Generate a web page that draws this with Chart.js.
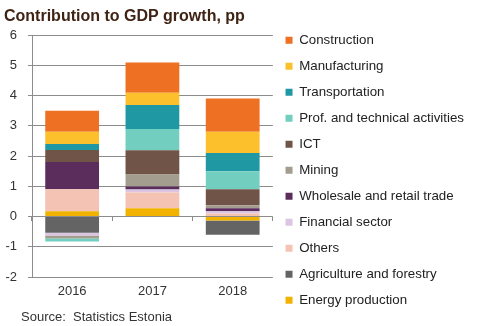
<!DOCTYPE html>
<html lang="en">
<head>
<meta charset="UTF-8">
<title>Contribution to GDP growth, pp</title>
<script src="https://cdn.jsdelivr.net/npm/chart.js@4"></script>
<style>
  html, body { margin: 0; padding: 0; background: #fff; }
</style>
</head>
<body>
<canvas id="grafico" width="479" height="326"></canvas>

<script>
    // contributions by sector, percentage points
    const years = ['2016', '2017', '2018'];
    const energy = [0.17, 0.27, -0.13];
    const agriculture = [-0.54, 0, -0.47];
    const others = [0.73, 0.52, 0.10];
    const financial = [-0.09, 0.10, 0.07];
    const wholesale = [0.90, 0.10, 0.10];
    const mining = [-0.10, 0.40, 0.10];
    const ict = [0.40, 0.80, 0.53];
    const prof = [-0.10, 0.70, 0.60];
    const transport = [0.20, 0.80, 0.60];
    const manufacturing = [0.40, 0.40, 0.70];
    const construction = [0.70, 1.00, 1.10];

    const titleText = 'Contribution to GDP growth, pp';
    const sourceText = 'Source:  Statistics Estonia';

    const font = '"Liberation Sans", Arial, sans-serif';
    const gridColor = '#8c8c8c';

    // bottom of the stack first
    const series = [
        ['Energy production', energy, '#f1b300'],
        ['Agriculture and forestry', agriculture, '#646464'],
        ['Others', others, '#f4c3b3'],
        ['Financial sector', financial, '#dcc4e2'],
        ['Wholesale and retail trade', wholesale, '#5a2d5d'],
        ['Mining', mining, '#a39d90'],
        ['ICT', ict, '#6f5447'],
        ['Prof. and technical activities', prof, '#72cfc0'],
        ['Transportation', transport, '#1f98a4'],
        ['Manufacturing', manufacturing, '#fcc02d'],
        ['Construction', construction, '#ee7023']
    ];

    const datasets = series.map(function (s) {
        return {
            label: s[0],
            data: s[1],
            backgroundColor: s[2],
            borderWidth: 0,
            barPercentage: 0.67,
            categoryPercentage: 1,
            xAxisID: 'x'
        };
    });

    // heading and source line
    const notes = {
        id: 'notes',
        afterDraw(chart) {
            const ctx = chart.ctx;
            ctx.save();
            ctx.textAlign = 'left';
            ctx.textBaseline = 'alphabetic';
            ctx.fillStyle = '#3f2314';
            ctx.font = 'bold 16px ' + font;
            ctx.fillText(titleText, 4, 21);
            ctx.fillStyle = '#333';
            ctx.font = '13px ' + font;
            ctx.fillText(sourceText, 21, 321);
            ctx.restore();
        }
    };

    new Chart(document.getElementById('grafico'), {
        type: 'bar',
        data: { labels: years, datasets: datasets },
        plugins: [notes],
        options: {
            responsive: false,
            animation: false,
            devicePixelRatio: 1,
            layout: { padding: { top: 21, left: 4, right: 5, bottom: 0 } },
            plugins: {
                title: { display: false },
                tooltip: { enabled: false },
                legend: {
                    position: 'right',
                    align: 'start',
                    reverse: true,
                    maxWidth: 260,
                    labels: {
                        boxWidth: 7,
                        boxHeight: 7,
                        padding: 12.7,
                        color: '#222',
                        font: { family: font, size: 13.3 }
                    }
                }
            },
            scales: {
                x: {
                    stacked: true,
                    grid: { display: false, drawTicks: false },
                    border: { display: false },
                    ticks: { color: '#333', padding: 7, font: { family: font, size: 13 } },
                    afterFit: function (s) { s.height = 49; }
                },
                // tick marks on the zero line between years
                x2: {
                    type: 'category',
                    offset: true,
                    position: { y: 0 },
                    grid: { offset: true, drawOnChartArea: false, tickLength: 4, color: gridColor },
                    border: { display: false },
                    ticks: { display: false }
                },
                // empty band above the plot
                pad: {
                    type: 'category',
                    position: 'top',
                    grid: { display: false },
                    border: { display: false },
                    ticks: { display: false },
                    afterFit: function (s) { s.height = 14; }
                },
                y: {
                    stacked: true,
                    min: -2,
                    max: 6,
                    ticks: { stepSize: 1, color: '#333', padding: 11, font: { family: font, size: 13 } },
                    grid: { color: gridColor, tickLength: 4 },
                    border: { color: gridColor },
                    afterFit: function (s) { s.width = 28; }
                }
            }
        }
    });
</script>
</body>
</html>
